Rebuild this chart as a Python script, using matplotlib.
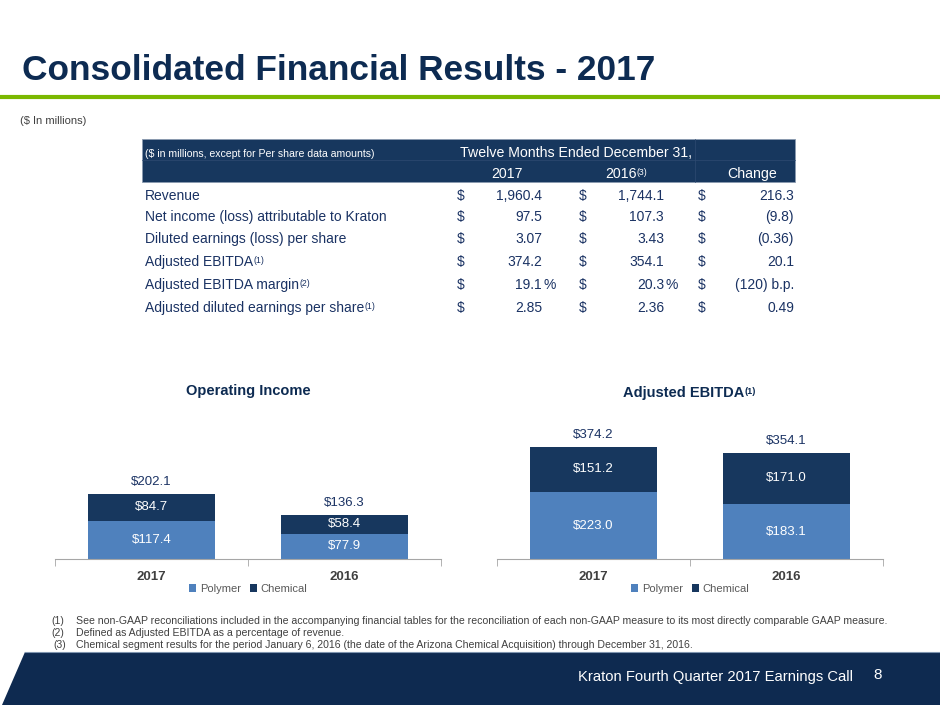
import matplotlib
matplotlib.use("Agg")
import matplotlib.pyplot as plt
from matplotlib.patches import Rectangle, Polygon
from matplotlib.lines import Line2D

# ---- data ----
row_labels = ["Revenue", "Net income (loss) attributable to Kraton",
              "Diluted earnings (loss) per share", "Adjusted EBITDA",
              "Adjusted EBITDA margin", "Adjusted diluted earnings per share"]
row_notes = ["", "", "", "(1)", "(2)", "(1)"]
vals_2017 = ["1,960.4", "97.5", "3.07", "374.2", "19.1", "2.85"]
vals_2016 = ["1,744.1", "107.3", "3.43", "354.1", "20.3", "2.36"]
vals_change = ["216.3", "(9.8)", "(0.36)", "20.1", "(120) b.p.", "0.49"]
row_units = ["", "", "", "", "%", ""]

years = ["2017", "2016"]
op_polymer = [117.4, 77.9]
op_chemical = [84.7, 58.4]
op_total = [202.1, 136.3]
ebitda_polymer = [223.0, 183.1]
ebitda_chemical = [151.2, 171.0]
ebitda_total = [374.2, 354.1]

footnotes = [
    ("(1)", "See non-GAAP reconciliations included in the accompanying financial tables for the "
            "reconciliation of each non-GAAP measure to its most directly comparable GAAP measure."),
    ("(2)", "Defined as Adjusted EBITDA as a percentage of revenue."),
    ("(3)", "Chemical segment results for the period January 6, 2016 (the date of the Arizona "
            "Chemical Acquisition) through December 31, 2016."),
]

# ---- style ----
NAVY = "#0D2B52"
HEADER = "#17375E"
FOOTER = "#0E2A50"
POLYMER = "#4F81BD"
CHEMICAL = "#17375E"
GREEN = "#7AB800"
TXT = "#1A3263"
GREY = "#404040"
SANS = ["Liberation Sans", "DejaVu Sans"]

ROW_Y = [196, 217, 239, 262, 285, 308]

fig = plt.figure(figsize=(9.4, 7.05), dpi=100)
fig.patch.set_facecolor("white")

# background axes in pixel coordinates
bg = fig.add_axes([0, 0, 1, 1])
bg.set_xlim(0, 940)
bg.set_ylim(705, 0)
bg.axis("off")

bg.text(22, 80, "Consolidated Financial Results - 2017", fontsize=25.4, fontweight="bold",
        color=NAVY, family=SANS, va="baseline")
bg.add_line(Line2D([0, 940], [97, 97], color=GREEN, lw=3))
bg.text(20, 121, "($ In millions)", fontsize=8, color=GREY, family=SANS, va="center")

# table header
bg.add_patch(Rectangle((142, 139), 653, 43, facecolor=HEADER, edgecolor="#8A9AB0", lw=0.6))
bg.add_line(Line2D([142, 795], [160, 160], color="#2E4A72", lw=0.5))
bg.add_line(Line2D([695, 695], [139, 182], color="#2E4A72", lw=0.5))
bg.text(145, 154, "($ in millions, except for Per share data amounts)", fontsize=7.6,
        color="white", family=SANS, va="center")
bg.text(576, 153, "Twelve Months Ended December 31,", fontsize=10.2, color="white",
        family=SANS, ha="center", va="center")
bg.text(507, 174, "2017", fontsize=10.2, color="white", family=SANS, ha="center", va="center")
t16 = bg.text(621, 174, "2016", fontsize=10.2, color="white", family=SANS, ha="center", va="center")
bg.annotate("(3)", xy=(1, 0.95), xycoords=t16, fontsize=6.3, color="white", family=SANS,
            ha="left", va="top")
bg.text(752, 174, "Change", fontsize=10.2, color="white", family=SANS, ha="center", va="center")

# table body
for i, y in enumerate(ROW_Y):
    t = bg.text(145, y, row_labels[i], fontsize=10, color=TXT, family=SANS, va="center")
    if row_notes[i]:
        bg.annotate(row_notes[i], xy=(1, 0.95), xycoords=t, fontsize=6.3, color=TXT,
                    family=SANS, ha="left", va="top")
    for dx, vals in ((461, vals_2017), (583, vals_2016)):
        bg.text(dx, y, "$", fontsize=10, color=TXT, family=SANS, ha="center", va="center")
        bg.text(dx + 81, y, vals[i], fontsize=10, color=TXT, family=SANS, ha="right", va="center")
        if row_units[i]:
            bg.text(dx + 82, y, row_units[i], fontsize=10, color=TXT, family=SANS,
                    ha="left", va="center")
    bg.text(702, y, "$", fontsize=10, color=TXT, family=SANS, ha="center", va="center")
    bg.text(794, y, vals_change[i], fontsize=10, color=TXT, family=SANS, ha="right", va="center")


def bar_panel(rect, polymer, chemical, total, ymax):
    ax = fig.add_axes(rect)
    x = range(len(years))
    b1 = ax.bar(x, polymer, width=0.66, color=POLYMER, label="Polymer", zorder=2)
    b2 = ax.bar(x, chemical, width=0.66, bottom=polymer, color=CHEMICAL, label="Chemical", zorder=2)
    for bars, vals in ((b1, polymer), (b2, chemical)):
        for b, v in zip(bars, vals):
            ax.text(b.get_x() + b.get_width() / 2, b.get_y() + b.get_height() / 2, f"${v:.1f}",
                    ha="center", va="center", color="white", fontsize=9.5, family=SANS)
    for b, p, v in zip(b2, polymer, total):
        ax.annotate(f"${v:.1f}", xy=(b.get_x() + b.get_width() / 2, p + b.get_height()),
                    xytext=(0, 4), textcoords="offset points", ha="center", va="bottom",
                    color=TXT, fontsize=9.5, family=SANS)
    ax.set_xlim(-0.5, len(years) - 0.5)
    ax.set_ylim(0, ymax)
    ax.set_facecolor("none")
    for s in ("top", "right", "left"):
        ax.spines[s].set_visible(False)
    ax.spines["bottom"].set_color("#A6A6A6")
    ax.set_yticks([])
    ax.set_xticks(list(x))
    ax.set_xticklabels(years, fontsize=9.5, fontweight="bold", color=GREY, family=SANS)
    ax.tick_params(axis="x", which="major", length=0, pad=9)
    ax.set_xticks([-0.5, 0.5, 1.5], minor=True)
    ax.tick_params(axis="x", which="minor", length=5, color="#A6A6A6")
    leg = ax.legend(loc="upper center", bbox_to_anchor=(0.5, -0.115), ncol=2, frameon=False,
                    handlelength=0.7, handleheight=0.7, handletextpad=0.3, columnspacing=0.8,
                    prop={"family": SANS, "size": 8}, borderaxespad=0)
    for t in leg.get_texts():
        t.set_color("#595959")
    return ax


# axes rects from pixel geometry: baseline at y=559, top at y=380
h = (559 - 380) / 705
bar_panel([55 / 940, (705 - 559) / 705, 386 / 940, h], op_polymer, op_chemical, op_total,
          (559 - 380) / 0.324)
bar_panel([497 / 940, (705 - 559) / 705, 386 / 940, h], ebitda_polymer, ebitda_chemical,
          ebitda_total, (559 - 380) / 0.30)

bg.text(248, 391, "Operating Income", fontsize=10.5, fontweight="bold", color=NAVY,
        family=SANS, ha="center", va="center")
te = bg.text(684, 393, "Adjusted EBITDA", fontsize=10.5, fontweight="bold", color=NAVY,
             family=SANS, ha="center", va="center")
bg.annotate("(1)", xy=(1, 0.95), xycoords=te, fontsize=6.5, fontweight="bold", color=NAVY,
            family=SANS, ha="left", va="top")

# footnotes
for i, (num, txt) in enumerate(footnotes):
    y = 621 + 12 * i
    bg.text(64 if i < 2 else 66, y, num, fontsize=7.5, color=GREY, family=SANS, ha="right", va="center")
    bg.text(76, y, txt, fontsize=7.6, color=GREY, family=SANS, va="center")

# footer band
bg.add_patch(Polygon([(25, 652), (940, 652), (940, 705), (2, 705)], closed=True,
                     facecolor=FOOTER, edgecolor="none"))
bg.add_line(Line2D([25, 940], [652, 652], color="#8096B0", lw=0.8))
bg.text(853, 677, "Kraton Fourth Quarter 2017 Earnings Call", fontsize=10.6, color="white",
        family=SANS, ha="right", va="center")
bg.text(878, 675, "8", fontsize=11, color="white", family=SANS, ha="center", va="center")

fig.savefig("out.png", dpi=100)
